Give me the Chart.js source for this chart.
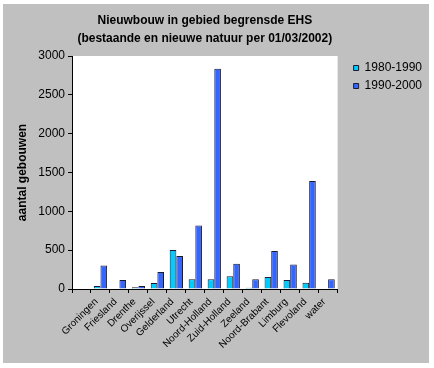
<!DOCTYPE html>
<html>
<head>
<meta charset="utf-8">
<script src="https://cdn.jsdelivr.net/npm/chart.js@4/dist/chart.umd.min.js"></script>
<style>
  html, body { margin: 0; padding: 0; background: #ffffff; }
  #wrap { width: 434px; height: 368px; }
</style>
</head>
<body>
<div id="wrap"><canvas id="c" width="434" height="368"></canvas></div>
<script>
const titleLines = ["Nieuwbouw in gebied begrensde EHS", "(bestaande en nieuwe natuur per 01/03/2002)"];
const yAxisTitle = "aantal gebouwen";
const categories = ["", "Groningen", "Friesland", "Drenthe", "Overijssel", "Gelderland", "Utrecht", "Noord-Holland", "Zuid-Holland", "Zeeland", "Noord-Brabant", "Limburg", "Flevoland", "water"];
const series1Label = "1980-1990";
const series2Label = "1990-2000";
const series1980 = [null, 38, 8, 21, 77, 501, 124, 124, 163, 17, 154, 116, 81, 0];
const series1990 = [null, 304, 116, 38, 218, 424, 817, 2837, 325, 124, 488, 317, 1391, 124];
const yTicks = [0, 500, 1000, 1500, 2000, 2500, 3000];

const bgPlugin = {
  id: 'bg',
  beforeDraw(chart) {
    const ctx = chart.ctx;
    const a = chart.chartArea;
    ctx.save();
    ctx.fillStyle = '#ffffff';
    ctx.fillRect(0, 0, chart.width, chart.height);
    ctx.fillStyle = '#c0c0c0';
    ctx.fillRect(3, 4, 426, 359);
    ctx.fillStyle = '#ffffff';
    ctx.fillRect(a.left, a.top, a.right - a.left, a.bottom - a.top);
    ctx.restore();
  }
};
const legendShift = {
  id: 'legendShift',
  afterLayout(chart) {
    const l = chart.legend;
    if (l) { l.left += 10; l.right += 10; }
  }
};

new Chart(document.getElementById('c'), {
  type: 'bar',
  data: {
    labels: categories,
    datasets: [
      { label: series1Label, data: series1980, backgroundColor: '#00ccff', borderColor: '#1a1a33', borderWidth: 1, categoryPercentage: 0.7, barPercentage: 1.0 },
      { label: series2Label, data: series1990, backgroundColor: '#3366ff', borderColor: '#1a1a33', borderWidth: 1, categoryPercentage: 0.7, barPercentage: 1.0 }
    ]
  },
  options: {
    responsive: false,
    devicePixelRatio: 1,
    animation: false,
    layout: { padding: { left: 4, top: 4, right: 12, bottom: 5 } },
    plugins: {
      title: {
        display: true,
        text: titleLines,
        fullSize: false,
        color: '#000000',
        font: { family: 'Arial, "Liberation Sans", sans-serif', size: 12, weight: 'bold', lineHeight: 1.5 },
        padding: { top: 8, bottom: 8 }
      },
      legend: {
        display: true,
        position: 'right',
        align: 'start',
        fullSize: false,
        labels: {
          boxWidth: 5,
          boxHeight: 5,
          padding: 6,
          color: '#000000',
          font: { family: 'Arial, "Liberation Sans", sans-serif', size: 12 }
        }
      },
      tooltip: { enabled: false }
    },
    scales: {
      x: {
        grid: { display: true, drawOnChartArea: false, drawTicks: true, tickLength: 4, color: '#000000', offset: true },
        border: { display: true, color: '#000000', width: 1 },
        ticks: {
          autoSkip: false, minRotation: 45, maxRotation: 45, color: '#000000', labelOffset: -4,
          font: { family: 'Arial, "Liberation Sans", sans-serif', size: 10 }
        },
        afterFit(scale) { scale.height = 74; }
      },
      y: {
        min: 0, max: 3000,
        afterBuildTicks(scale) { scale.ticks = yTicks.map(v => ({ value: v })); },
        grid: { display: true, drawOnChartArea: false, drawTicks: true, tickLength: 4, color: '#000000' },
        border: { display: true, color: '#000000', width: 1 },
        ticks: {
          color: '#000000', padding: 3,
          font: { family: 'Arial, "Liberation Sans", sans-serif', size: 12 },
          callback: (v) => String(v)
        },
        title: {
          display: true, text: yAxisTitle, color: '#000000',
          font: { family: 'Arial, "Liberation Sans", sans-serif', size: 12, weight: 'bold' },
          padding: { top: 11, bottom: 0 }
        },
        afterFit(scale) { scale.width = 68; }
      }
    }
  },
  plugins: [bgPlugin, legendShift]
});
</script>
</body>
</html>
